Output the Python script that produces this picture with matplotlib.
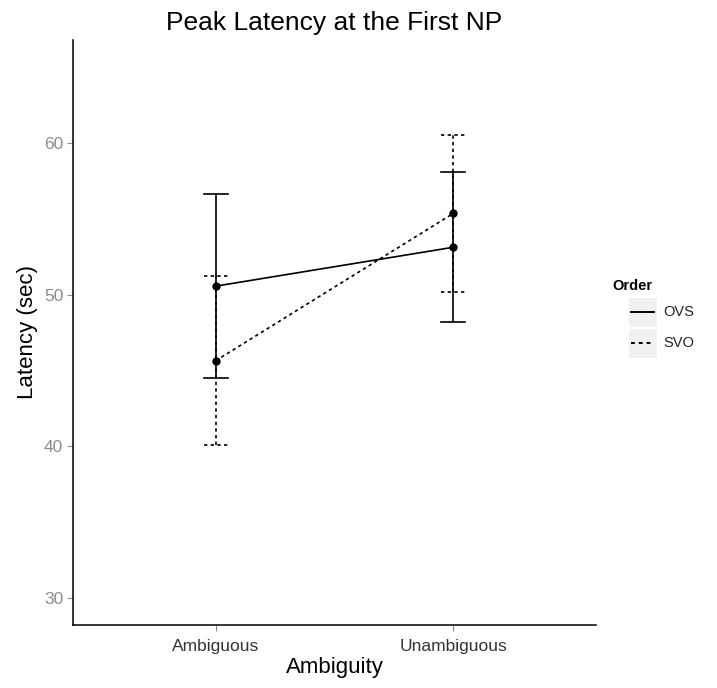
import matplotlib
matplotlib.use('Agg')
import matplotlib.pyplot as plt
from matplotlib.patches import Rectangle

plt.rcParams['font.family'] = ['Liberation Sans', 'DejaVu Sans']

# dados
ambiguity = ["Ambiguous", "Unambiguous"]
orders = ["OVS", "SVO"]
ovs_mean = [50.55, 53.11]
ovs_err = [6.05, 4.93]
svo_mean = [45.64, 55.34]
svo_err = [5.55, 5.17]
y_ticks = [30, 40, 50, 60]

W, H = 717, 688
fig = plt.figure(figsize=(W / 100, H / 100), dpi=100)
ax = fig.add_axes([73 / W, 1 - 625 / H, (596 - 73) / W, (625 - 40) / H])

dash = (0, (2.0, 2.0))
styles = {"OVS": '-', "SVO": dash}
means = {"OVS": ovs_mean, "SVO": svo_mean}
errs = {"OVS": ovs_err, "SVO": svo_err}
xs = [1, 2]
cap = 0.05

for o in orders:
    ls = styles[o]
    m = means[o]
    e = errs[o]
    for x, mv, ev in zip(xs, m, e):
        ax.plot([x, x], [mv - ev, mv + ev], color='black', lw=1.2, ls=ls)
        ax.plot([x - cap, x + cap], [mv + ev, mv + ev], color='black', lw=1.2, ls=ls)
        ax.plot([x - cap, x + cap], [mv - ev, mv - ev], color='black', lw=1.2, ls=ls)
    ax.plot(xs, m, color='black', lw=1.2, ls=ls)
    ax.plot(xs, m, 'o', color='black', ms=5)

ax.set_xlim(0.4, 2.6)
ax.set_ylim(28.25, 66.75)
ax.set_xticks(xs)
ax.set_xticklabels(ambiguity, fontsize=12.5, color='#333333')
ax.set_yticks(y_ticks)
ax.set_yticklabels([str(t) for t in y_ticks], fontsize=12.5, color='#8c8c8c')
ax.tick_params(axis='both', length=4, color='#8c8c8c', width=0.8, pad=3)
ax.tick_params(axis='x', pad=6)
for s in ['top', 'right']:
    ax.spines[s].set_visible(False)
for s in ['left', 'bottom']:
    ax.spines[s].set_linewidth(1.1)
ax.set_xlabel("Ambiguity", fontsize=16, labelpad=2)
ax.set_ylabel("Latency (sec)", fontsize=16, labelpad=4)
ax.set_title("Peak Latency at the First NP", fontsize=19, pad=7)

# legenda manual
lax = fig.add_axes([612 / W, 1 - 360 / H, 100 / W, 85 / H])
lax.set_xlim(612, 712)
lax.set_ylim(360, 275)
lax.axis('off')
lax.text(612, 286, "Order", fontsize=10.5, fontweight='bold', va='center', ha='left')
for i, o in enumerate(orders):
    top = 297 + i * 31
    lax.add_patch(Rectangle((628, top), 29, 30, facecolor='#f0f0f0', edgecolor='white', lw=1))
    yc = top + 15
    lax.plot([631, 654], [yc, yc], color='black', lw=1.4, ls=styles[o])
    lax.text(663, yc, o, fontsize=10.5, va='center', ha='left', color='#222222')

fig.savefig('out.png', dpi=100)
